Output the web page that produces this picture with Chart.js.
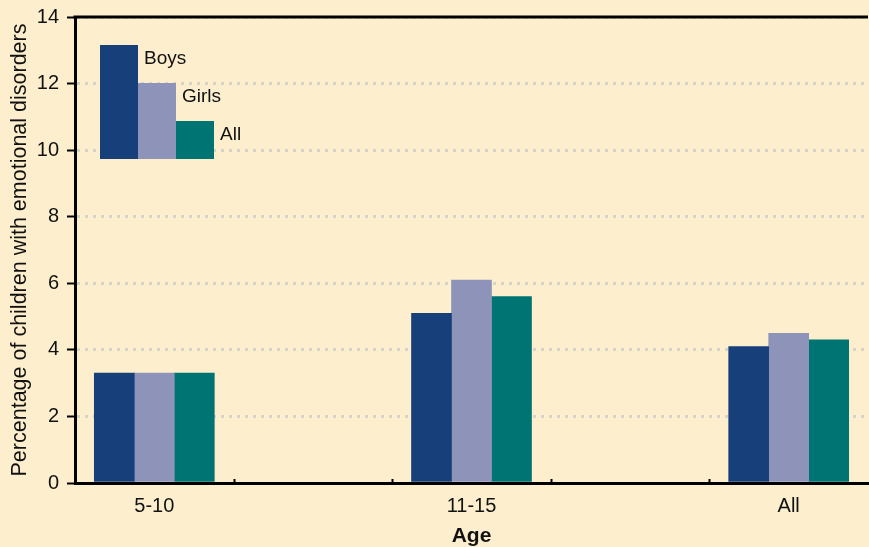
<!DOCTYPE html>
<html>
<head>
<meta charset="utf-8">
<script src="https://cdn.jsdelivr.net/npm/chart.js@4"></script>
<style>
  html, body { margin: 0; padding: 0; background: #fdefcd; }
  #wrap { width: 869px; height: 547px; position: relative; }
</style>
</head>
<body>
<div id="wrap"><canvas id="chart"></canvas></div>
<script>
// --- data ---
const categories = ['5-10', '11-15', 'All'];
const boys  = [3.3, 5.1, 4.1];
const girls = [3.3, 6.1, 4.5];
const all   = [3.3, 5.6, 4.3];
const yTicks = [0, 2, 4, 6, 8, 10, 12, 14];

const FONT = "'Liberation Sans', Arial, sans-serif";
const toPoints = vals => vals.map((v, i) => ({ x: i, y: v }));

// box legend in the top-left corner + top frame line + small x ticks
const decorations = {
    id: 'decorations',
    afterDraw(chart) {
        const { ctx, chartArea: a } = chart;
        const xs = chart.scales.x;
        ctx.save();

        // top frame line
        ctx.strokeStyle = '#000';
        ctx.lineWidth = 3;
        ctx.beginPath();
        ctx.moveTo(a.left - 1.5, a.top);
        ctx.lineTo(a.right, a.top);
        ctx.stroke();

        // little upward ticks between the groups
        ctx.lineWidth = 2;
        categories.forEach((c, i) => {
            [i - 0.25, i + 0.25].forEach(v => {
                if (v <= xs.min || v >= xs.max) return;
                const px = Math.round(xs.getPixelForValue(v)) + 0.5;
                ctx.beginPath();
                ctx.moveTo(px, a.bottom);
                ctx.lineTo(px, a.bottom - 4);
                ctx.stroke();
            });
        });

        // stepped legend boxes
        const x0 = a.left + 25, bottom = a.top + 142, w = 38;
        const tops = [28, 66, 104];
        ctx.font = `19px ${FONT}`;
        ctx.textBaseline = 'alphabetic';
        chart.data.datasets.forEach((ds, i) => {
            const x = x0 + i * w;
            ctx.fillStyle = ds.backgroundColor;
            ctx.fillRect(x, a.top + tops[i], w, bottom - (a.top + tops[i]));
            ctx.fillStyle = '#111';
            ctx.fillText(ds.label, x + w + 6, a.top + tops[i] + 19);
        });
        ctx.restore();
    }
};

new Chart(document.getElementById('chart'), {
    type: 'bar',
    data: {
        datasets: [
            { label: 'Boys',  data: toPoints(boys),  backgroundColor: '#173f7a' },
            { label: 'Girls', data: toPoints(girls), backgroundColor: '#8e94b9' },
            { label: 'All',   data: toPoints(all),   backgroundColor: '#007472' }
        ]
    },
    options: {
        responsive: true,
        maintainAspectRatio: false,
        animation: false,
        layout: { padding: { top: 17, right: 1, left: 0, bottom: 0 } },
        datasets: { bar: { barThickness: 40, borderWidth: 0 } },
        plugins: { legend: { display: false }, tooltip: { enabled: false } },
        scales: {
            x: {
                type: 'linear',
                offset: false,
                min: -0.25,
                max: categories.length - 0.75,
                afterBuildTicks: s => { s.ticks = categories.map((c, i) => ({ value: i })); },
                afterFit: s => { s.height = 64; s.paddingLeft = 0; s.paddingRight = 0; },
                border: { display: true, color: '#000', width: 3 },
                grid: { display: true, offset: false, drawOnChartArea: false, drawTicks: false },
                ticks: {
                    autoSkip: false, maxRotation: 0, padding: 11,
                    color: '#111', font: { family: FONT, size: 20 },
                    callback: v => categories[v] ?? ''
                },
                title: {
                    display: true, text: 'Age', color: '#111',
                    font: { family: FONT, size: 21, weight: 'bold', lineHeight: 1.05 },
                    padding: { top: 0, bottom: 0 }
                }
            },
            y: {
                min: 0,
                max: 14,
                afterBuildTicks: s => { s.ticks = yTicks.map(v => ({ value: v })); },
                afterFit: s => { s.width = 75; s.paddingTop = 0; s.paddingBottom = 0; },
                border: { display: true, color: '#000', width: 3, dash: [3, 5] },
                grid: {
                    color: '#d6d3c9', lineWidth: 3,
                    tickColor: '#000', tickWidth: 2, tickLength: 8, tickBorderDash: []
                },
                ticks: { padding: 8, color: '#111', font: { family: FONT, size: 20 } },
                title: {
                    display: true, text: 'Percentage of children with emotional disorders',
                    color: '#111', font: { family: FONT, size: 21.5 },
                    padding: { top: 7, bottom: 0 }
                }
            }
        }
    },
    plugins: [decorations]
});
</script>
</body>
</html>
